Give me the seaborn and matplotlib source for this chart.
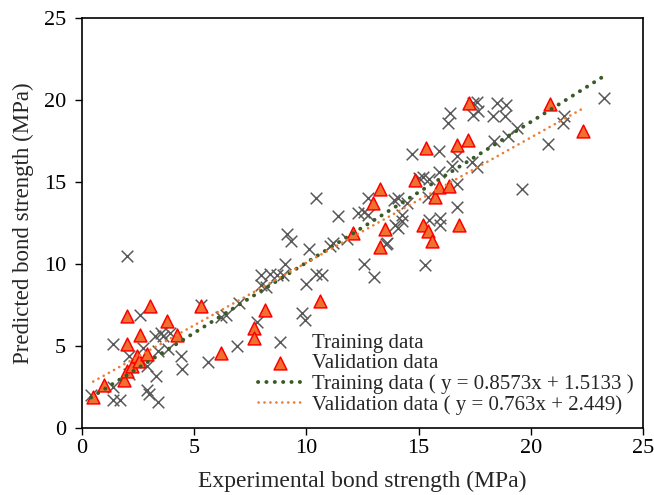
import numpy as np
import pandas as pd
import matplotlib
matplotlib.use("Agg")
import matplotlib.pyplot as plt
import seaborn as sns

# ---- data ----
train_x = [0.4, 1.4, 1.7, 1.4, 2.9, 3.0, 3.4, 2.1, 2.9, 3.3, 1.4, 2.1, 2.7, 3.25, 3.5, 3.6, 3.9,
           3.4, 3.85, 4.4, 4.45, 2.6, 2.0, 5.6, 6.9, 5.3, 6.2, 6.4, 7.0, 7.8, 8.0, 8.4, 8.7, 8.0,
           8.2, 8.95, 9.05, 9.15, 9.3, 9.8, 9.95, 10.0, 10.1, 10.45, 10.7, 10.45, 11.05, 11.2, 11.4,
           11.8, 12.3, 12.55, 12.75, 12.75, 12.55, 13.0, 13.6, 13.9, 14.1, 13.95, 14.1, 14.25, 14.25,
           14.5, 14.7, 15.0, 15.2, 15.45, 15.9, 15.9, 15.3, 15.45, 15.95, 15.95, 16.4, 16.3, 16.7,
           16.5, 16.7, 16.7, 17.4, 17.6, 17.45, 17.6, 17.45, 17.65, 18.5, 18.9, 18.3, 18.85, 19.4,
           19.0, 18.35, 20.75, 21.5, 21.45, 23.25, 19.6, 15.4, 13.55]
train_y = [2.0, 1.7, 1.7, 2.5, 2.3, 2.1, 1.6, 3.3, 3.8, 3.2, 5.1, 4.4, 4.9, 5.6, 5.8, 5.6, 5.8,
           4.7, 4.8, 4.4, 3.6, 6.9, 10.5, 4.0, 5.0, 7.5, 6.75, 6.9, 7.6, 6.45, 9.3, 9.4, 9.3, 8.7,
           8.6, 9.3, 10.0, 11.8, 11.4, 7.0, 6.6, 8.8, 10.9, 9.4, 9.3, 14.0, 11.1, 11.3, 12.9,
           11.5, 13.1, 13.2, 13.0, 14.0, 10.0, 9.2, 11.3, 13.9, 14.0, 12.4, 12.2, 12.6, 13.0,
           13.7, 16.7, 15.25, 15.3, 15.2, 15.6, 16.9, 9.95, 12.7, 12.8, 12.4, 19.2, 18.6, 16.6,
           16.0, 14.85, 13.5, 16.2, 15.9, 19.8, 19.9, 19.1, 19.3, 19.8, 19.7, 19.05, 19.05, 18.3,
           17.8, 17.5, 17.3, 19.0, 18.6, 20.1, 14.6, 14.1, 11.2]

valid_x = [0.5, 1.0, 1.85, 2.0, 2.25, 2.45, 2.55, 2.9, 2.0, 2.6, 2.0, 3.05, 3.8, 4.25, 5.3,
           6.2, 7.65, 7.65, 8.15, 10.6, 12.1, 13.3, 13.3, 12.95, 13.5, 14.85, 15.35, 15.2,
           15.4, 15.6, 15.75, 15.9, 16.35, 16.7, 16.8, 17.2, 17.25, 20.85, 22.35]
valid_y = [1.9, 2.65, 2.9, 3.5, 3.75, 4.4, 4.1, 4.5, 5.1, 5.65, 6.8, 7.45, 6.5, 5.65, 7.45,
           4.6, 6.1, 5.5, 7.2, 7.75, 11.9, 11.05, 14.6, 13.7, 12.15, 15.1, 17.05, 12.4,
           12.0, 11.4, 14.1, 14.7, 14.75, 17.25, 12.4, 17.55, 19.8, 19.75, 18.1]

fit_slopes = [0.8573, 0.763]
fit_intercepts = [1.5133, 2.449]
labels = ["Training data", "Validation data",
          "Training data ( y = 0.8573x + 1.5133 )", "Validation data ( y = 0.763x + 2.449)"]
ticks = [0, 5, 10, 15, 20, 25]

sns.set_style("ticks")
plt.rcParams["font.family"] = ["Liberation Serif", "DejaVu Serif"]

fig = plt.figure(figsize=(6.54, 4.95), dpi=100)
ax = fig.add_axes([0.1254, 0.1354, 0.8576, 0.8282])

train = pd.DataFrame({"x": train_x, "y": train_y})
valid = pd.DataFrame({"x": valid_x, "y": valid_y})

sns.scatterplot(data=train, x="x", y="y", marker="x", s=70, color="#595959",
                linewidth=1.1, ax=ax, label=labels[0], zorder=2)
sns.scatterplot(data=valid, x="x", y="y", marker="^", s=85, color="#F07030",
                edgecolor="#FF0000", linewidth=1.1, ax=ax, label=labels[1], zorder=3)

# trend lines from the stated fits, spanning each data range
tx = np.array([min(train_x), max(train_x)])
vx = np.array([min(valid_x), max(valid_x)])
tline = pd.DataFrame({"x": tx, "y": fit_slopes[0] * tx + fit_intercepts[0]})
vline = pd.DataFrame({"x": vx, "y": fit_slopes[1] * vx + fit_intercepts[1]})
sns.lineplot(data=tline, x="x", y="y", ax=ax, color="#3A5A26", linewidth=2.8,
             linestyle=(0, (0.05, 2.1)), label=labels[2], zorder=4)
sns.lineplot(data=vline, x="x", y="y", ax=ax, color="#ED7D31", linewidth=1.9,
             linestyle=(0, (0.05, 2.2)), label=labels[3], zorder=4)
for ln in ax.get_lines():
    ln.set_dash_capstyle("round")

ax.set_xlim(0, 25)
ax.set_ylim(0, 25)
ax.set_xticks(ticks)
ax.set_yticks(ticks)
ax.tick_params(axis="both", direction="out", length=5, width=1, labelsize=16, colors="black")
ax.tick_params(axis="x", pad=3)
ax.tick_params(axis="y", pad=6.5)
for sp in ax.spines.values():
    sp.set_visible(True)
    sp.set_linewidth(1.2)
    sp.set_color("black")

ax.set_xlabel("Experimental bond strength (MPa)", fontsize=17, labelpad=9)
ax.set_ylabel("Predicted bond strength (MPa)", fontsize=16.5, labelpad=7)

leg = ax.legend(loc="upper left", bbox_to_anchor=((258 - 82) / 561, (428 - 333) / 410),
                frameon=False, fontsize=15, handlelength=2.1, handletextpad=0.5,
                labelspacing=0.05, borderaxespad=0, borderpad=0)
for h in leg.legend_handles:
    h.set_zorder(5)

fig.savefig("out.png", dpi=100)
